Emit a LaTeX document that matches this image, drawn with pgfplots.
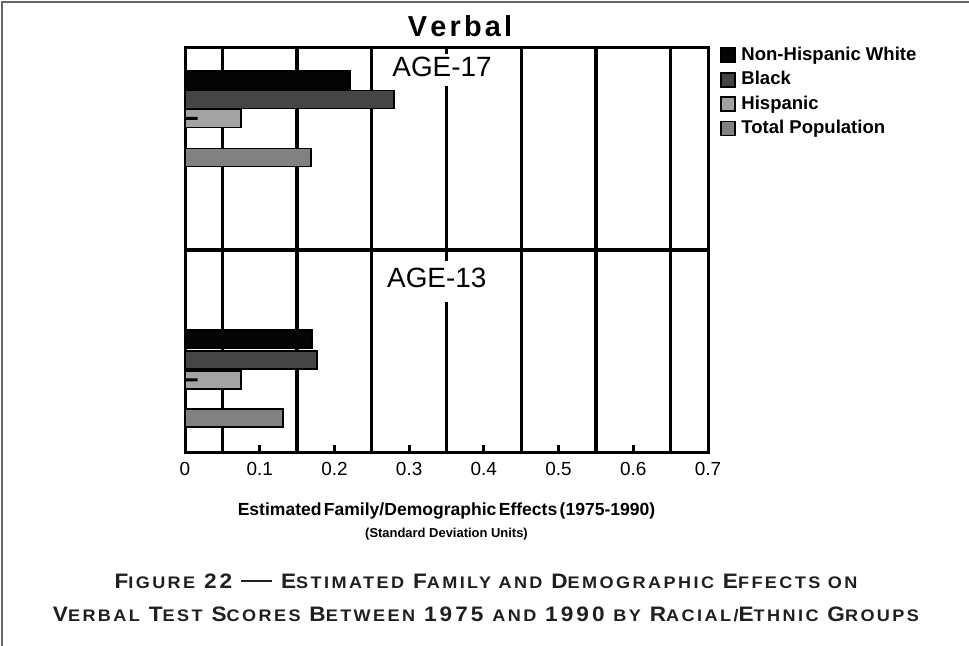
\documentclass[border=0pt]{standalone}
\usepackage{fontspec}
\setmainfont{Liberation Sans}
\newfontfamily\capfont[LetterSpace=14.5, FakeStretch=1.08]{Liberation Sans}
\usepackage{pgfplots}
\pgfplotsset{compat=1.18}

\definecolor{cwhite}{HTML}{050505}
\definecolor{cblack}{HTML}{454545}
\definecolor{chisp}{HTML}{A3A3A3}
\definecolor{ctotal}{HTML}{818181}
\definecolor{framegray}{HTML}{666666}

% hand-made small caps for the caption
\newcommand\Bc[1]{{\fontsize{10.5}{12}\selectfont #1}}
\newcommand\Sc[1]{{\fontsize{8.4}{10}\selectfont #1}}

\begin{document}
\begin{tikzpicture}
\begin{axis}[
    scale only axis,
    width=261.5bp, height=202bp,
    xmin=0, xmax=0.7, ymin=0, ymax=404,
    xbar, bar shift=0pt, bar width=18,
    axis line style={line width=1.5bp, black},
    ytick=\empty,
    xtick={0,0.1,0.2,0.3,0.4,0.5,0.6,0.7},
    xtick pos=bottom, tick align=inside,
    major tick length=3.5bp,
    every tick/.style={black, line width=1.5bp},
    xticklabel style={font=\fontsize{9.5}{11}\selectfont, yshift=-1.5bp},
    /pgf/number format/assume math mode=true,
    extra x ticks={0.05,0.15,0.25,0.35,0.45,0.55,0.65},
    extra x tick labels={},
    extra x tick style={grid=major, major grid style={black, line width=1.7bp}, major tick length=0pt},
    extra y ticks={202},
    extra y tick labels={},
    extra y tick style={grid=major, major grid style={black, line width=2bp}, major tick length=0pt},
    every axis plot/.append style={draw=black, line width=0.9bp},
    legend style={at={(1.011,1.019)}, anchor=north west, draw=none, fill=none,
        font=\fontsize{9.3}{10}\selectfont\bfseries, row sep=1.6bp,
        nodes={inner sep=1.2bp}},
    legend cell align=left,
    legend image code/.code={\draw[#1, line width=0.9bp] (0bp,-3.5bp) rectangle (7bp,3.5bp);
        \path[draw=none, fill=none] (0bp,0bp) -- (9bp,0bp);},
]
\addplot[fill=cwhite] coordinates {(0.221,372) (0.170,113)};
\addplot[fill=cblack] coordinates {(0.280,352.5) (0.177,92)};
\addplot[fill=chisp] coordinates {(0.075,333.5) (0.075,72)};
\addplot[fill=ctotal] coordinates {(0.169,294.5) (0.131,34)};
\addplot[fill=black, draw=none, bar width=3, forget plot] coordinates {(0.017,333.5) (0.017,72)};
\legend{Non-Hispanic White, Black, Hispanic, Total Population}

\node[anchor=base, fill=white, inner xsep=2bp, inner ysep=2bp, text depth=2.5bp,
      font=\fontsize{14}{16}\selectfont] at (axis cs:0.344,375) {AGE-17};
\node[anchor=base, fill=white, inner xsep=2bp, inner ysep=4bp, text depth=3bp,
      font=\fontsize{14}{16}\selectfont] at (axis cs:0.337,164) {AGE-13};
\end{axis}

% title
\node[anchor=base, font=\fontsize{14.5}{16}\selectfont\bfseries] at (137.5bp,207.5bp)
  {V\kern1.6bp e\kern1.6bp r\kern1.6bp b\kern1.6bp a\kern1.6bp l};

% axis label
\node[anchor=base, font=\fontsize{8.8}{10}\selectfont\bfseries] at (130.75bp,-31.5bp)
  {Estimated\hspace{1.2bp}Family/Demographic\hspace{1.2bp}Effects\hspace{1.2bp}(1975-1990)};
\node[anchor=base, font=\fontsize{6.5}{8}\selectfont\bfseries] at (130.75bp,-42.5bp)
  {(Standard Deviation Units)};

% caption
\node[anchor=base, text=black!88, font=\capfont\bfseries] at (150.5bp,-68bp)
  {\Bc{F}\Sc{IGURE} \Bc{22} \rule[2.9bp]{15.5bp}{0.9bp} \Bc{E}\Sc{STIMATED} \Bc{F}\Sc{AMILY AND} \Bc{D}\Sc{EMOGRAPHIC} \Bc{E}\Sc{FFECTS ON}};
\node[anchor=base, text=black!88, font=\capfont\bfseries] at (150.5bp,-84.5bp)
  {\Bc{V}\Sc{ERBAL} \Bc{T}\Sc{EST} \Bc{S}\Sc{CORES} \Bc{B}\Sc{ETWEEN} \Bc{1975} \Sc{AND} \Bc{1990} \Sc{BY} \Bc{R}\Sc{ACIAL/}\Bc{E}\Sc{THNIC} \Bc{G}\Sc{ROUPS}};

% frame (top and left edge)
\draw[framegray, line width=1bp] (-91.5bp,-97bp) -- (-91.5bp,225bp) -- (392bp,225bp);

\pgfresetboundingbox
\useasboundingbox (-92.5bp,-97bp) rectangle (392bp,226bp);
\end{tikzpicture}
\end{document}
